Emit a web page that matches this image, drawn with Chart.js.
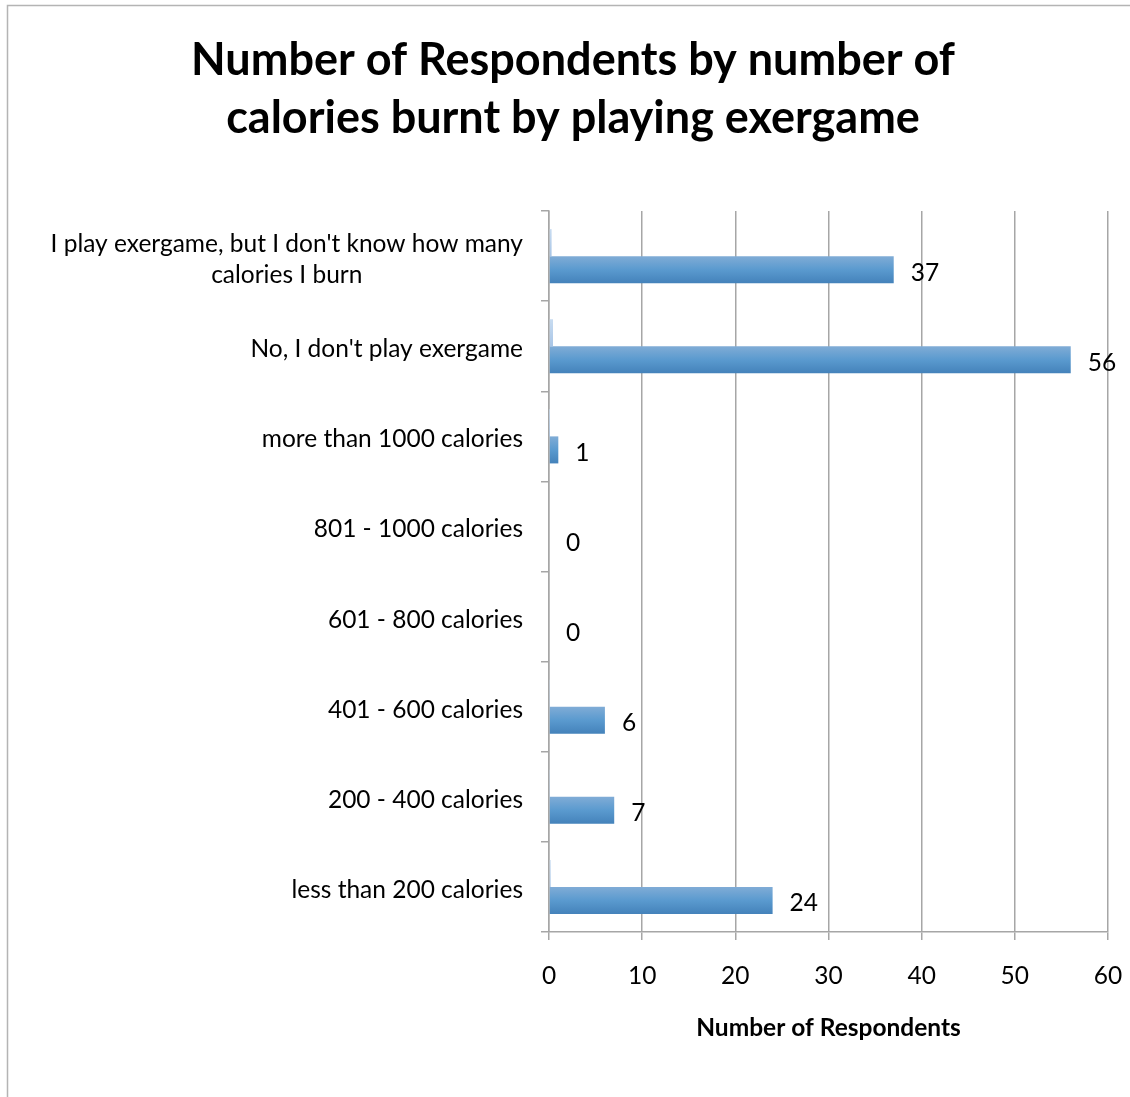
<!DOCTYPE html>
<html>
<head>
<meta charset="utf-8">
<script src="https://cdn.jsdelivr.net/npm/chart.js@4/dist/chart.umd.min.js"></script>
<style>
  body { margin: 0; background: #fff; }
  #wrap { width: 1130px; height: 1097px; position: relative; }
</style>
</head>
<body>
<div id="wrap"><canvas id="grafico"></canvas></div>
<script>
const categorias = [
    ["I play exergame, but I don't know how many", "calories I burn"],
    "No, I don't play exergame",
    "more than 1000 calories",
    "801 - 1000 calories",
    "601 - 800 calories",
    "401 - 600 calories",
    "200 - 400 calories",
    "less than 200 calories"
];
const respondentes = [37, 56, 1, 0, 0, 6, 7, 24];
const percentuais = [0.28, 0.43, 0.01, 0, 0, 0.05, 0.05, 0.18];
const ticksX = [0, 10, 20, 30, 40, 50, 60];

const fonte = "Lato, 'Open Sans', sans-serif";
const cinza = "#a6a6a6";
const tam = 24.5;

function corBarra(c) {
    const chart = c.chart;
    const eixo = chart.scales.y;
    const base = c.datasetIndex === 1 ? "#5b9bd5" : "#b9d1ec";
    if (!eixo || c.type !== "data") return base;
    const centro = eixo.getPixelForValue(c.dataIndex);
    const meia = (eixo.bottom - eixo.top) / categorias.length * 0.6 / 2;
    if (!Number.isFinite(centro) || !Number.isFinite(meia) || meia <= 0) return base;
    const topo = c.datasetIndex === 1 ? centro : centro - meia;
    const g = chart.ctx.createLinearGradient(0, topo, 0, topo + meia);
    if (c.datasetIndex === 1) {
        g.addColorStop(0, "#80acd6");
        g.addColorStop(0.5, "#5a9acf");
        g.addColorStop(1, "#4482ba");
    } else {
        g.addColorStop(0, "#c8dcf1");
        g.addColorStop(1, "#a8c5e6");
    }
    return g;
}

const moldura = {
    id: "moldura",
    beforeDraw(chart) {
        const ctx = chart.ctx;
        ctx.save();
        ctx.fillStyle = "#fff";
        ctx.fillRect(0, 0, chart.width, chart.height);
        ctx.strokeStyle = "#b4b4b4";
        ctx.lineWidth = 1.5;
        ctx.strokeRect(7.5, 5.5, 1300, 1300);
        ctx.restore();
    }
};

const rotulos = {
    id: "rotulos",
    afterDatasetsDraw(chart) {
        const ctx = chart.ctx;
        const eixo = chart.scales.y;
        const dir = eixo.right - 26;
        ctx.save();
        ctx.fillStyle = "#000";
        ctx.font = tam + "px " + fonte;
        ctx.textBaseline = "middle";
        // nomes das categorias
        categorias.forEach((cat, i) => {
            const linhas = Array.isArray(cat) ? cat : [cat];
            const larg = Math.max(...linhas.map(l => ctx.measureText(l).width));
            const cx = dir - larg / 2;
            const y0 = eixo.getPixelForValue(i) + 3 - (linhas.length - 1) * 31 / 2;
            ctx.textAlign = "center";
            linhas.forEach((l, k) => ctx.fillText(l, cx, y0 + k * 31));
        });
        // valores
        ctx.textAlign = "left";
        const meta = chart.getDatasetMeta(1);
        meta.data.forEach((barra, i) => {
            ctx.fillText(String(respondentes[i]), barra.x + 17, barra.y + 3);
        });
        ctx.restore();
    }
};

new Chart(document.querySelector("#grafico"), {
    type: "bar",
    data: {
        labels: categorias,
        datasets: [
            {
                label: "Percent",
                data: percentuais,
                backgroundColor: corBarra,
                categoryPercentage: 0.6,
                barPercentage: 1.0
            },
            {
                label: "Number of Respondents",
                data: respondentes,
                backgroundColor: corBarra,
                categoryPercentage: 0.6,
                barPercentage: 1.0
            }
        ]
    },
    options: {
        indexAxis: "y",
        responsive: true,
        maintainAspectRatio: false,
        animation: false,
        layout: { padding: { left: 38, right: 22, top: 0, bottom: 54 } },
        plugins: {
            legend: { display: false },
            tooltip: { enabled: false },
            title: {
                display: true,
                text: ["Number of Respondents by number of", "calories burnt by playing exergame"],
                color: "#000",
                font: { family: fonte, size: 45, weight: "bold", lineHeight: 1.29 },
                padding: { top: 31, bottom: 64 }
            }
        },
        scales: {
            x: {
                min: 0,
                max: 60,
                afterBuildTicks(scale) {
                    scale.ticks = ticksX.map(v => ({ value: v }));
                },
                afterFit(scale) {
                    scale.height = 111;
                    scale.paddingLeft = 0;
                    scale.paddingRight = 0;
                },
                grid: { color: cinza, lineWidth: 1.5, tickLength: 8 },
                border: { display: true, color: cinza, width: 1.5 },
                ticks: {
                    color: "#000",
                    padding: 21,
                    maxRotation: 0,
                    font: { family: fonte, size: tam, lineHeight: 1.2 }
                },
                title: {
                    display: true,
                    text: "Number of Respondents",
                    color: "#000",
                    font: { family: fonte, size: tam, weight: "bold", lineHeight: 1.2 },
                    padding: { top: 20, bottom: 0 }
                }
            },
            y: {
                afterFit(scale) { scale.width = 511; },
                grid: {
                    offset: true,
                    drawOnChartArea: false,
                    color: cinza,
                    lineWidth: 1.5,
                    tickLength: 8
                },
                border: { display: true, color: cinza, width: 1.5 },
                ticks: { display: false }
            }
        }
    },
    plugins: [moldura, rotulos]
});
</script>
</body>
</html>
